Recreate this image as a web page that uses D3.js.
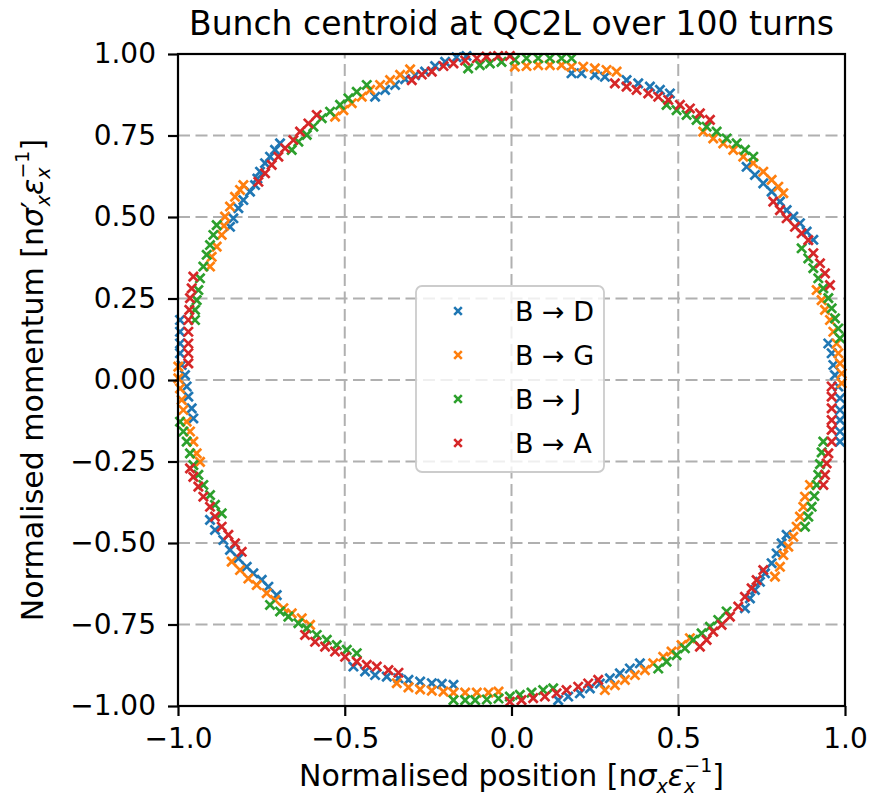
<!DOCTYPE html>
<html><head><meta charset="utf-8">
<script src="https://cdn.jsdelivr.net/npm/d3@7"></script>
<style>
body{margin:0;background:#fff}
svg{display:block}
text{font-family:"DejaVu Sans",sans-serif;fill:#000}
</style>
</head><body>
<svg id="chart" width="871" height="801"></svg>
<script>
// ---------------- data ----------------
const titleText = "Bunch centroid at QC2L over 100 turns";
const seriesNames = ["B \u2192 D", "B \u2192 G", "B \u2192 J", "B \u2192 A"];
const xTicks = [-1.0, -0.5, 0.0, 0.5, 1.0];
const yTicks = [-1.00, -0.75, -0.50, -0.25, 0.00, 0.25, 0.50, 0.75, 1.00];

const pointsBD = [
[-0.844,0.470],[-0.834,0.496],[-0.819,0.527],[-0.804,0.552],[-0.784,0.578],[-0.769,0.598],[-0.762,0.618],[-0.754,0.639],[-0.739,0.665],[-0.724,0.685],[-0.709,0.706],[-0.694,0.726],
[-0.409,0.869],[-0.379,0.890],[-0.349,0.905],[-0.319,0.923],[-0.289,0.935],[-0.259,0.946],[-0.229,0.963],[-0.199,0.976],[-0.165,0.990],[-0.135,0.994],
[0.180,0.941],[0.210,0.941],[0.250,0.936],[0.280,0.930],[0.345,0.920],[0.380,0.910],[0.415,0.900],[0.445,0.890],[0.475,0.879],
[0.705,0.654],[0.730,0.629],[0.755,0.603],[0.780,0.578],[0.805,0.547],[0.825,0.521],[0.845,0.501],[0.865,0.481],[0.885,0.455],[0.905,0.430],
[0.950,0.112],[0.960,0.082],[0.965,0.046],[0.970,0.015],[0.980,-0.020],[0.985,-0.056],[0.985,-0.092],[0.985,-0.123],[0.985,-0.158],[0.985,-0.189],
[0.825,-0.475],[0.810,-0.501],[0.795,-0.532],[0.780,-0.562],[0.760,-0.593],[0.745,-0.619],[0.730,-0.644],[0.715,-0.670],[0.700,-0.700],
[0.385,-0.869],[0.355,-0.885],[0.325,-0.900],[0.295,-0.915],[0.265,-0.931],[0.235,-0.946],[0.205,-0.961],[0.170,-0.971],[0.140,-0.982],
[-0.904,-0.429],[-0.889,-0.460],[-0.864,-0.491],[-0.844,-0.521],[-0.819,-0.547],[-0.794,-0.573],[-0.774,-0.593],[-0.749,-0.613],[-0.729,-0.634],[-0.704,-0.660],
[-0.474,-0.879],[-0.439,-0.894],[-0.409,-0.905],[-0.374,-0.910],[-0.339,-0.915],[-0.309,-0.920],[-0.274,-0.925],[-0.239,-0.930],[-0.209,-0.932],[-0.174,-0.935],
[-0.994,0.184],[-0.994,0.148],[-0.994,0.112],[-0.994,0.082],[-0.989,0.046],[-0.979,0.015],[-0.974,-0.020],[-0.969,-0.051],[-0.959,-0.087],[-0.954,-0.118]
];

const pointsBG = [
[-0.904,0.348],[-0.899,0.378],[-0.884,0.409],[-0.869,0.445],[-0.862,0.473],[-0.859,0.501],[-0.844,0.532],[-0.829,0.562],[-0.814,0.583],[-0.804,0.598],
[-0.529,0.808],[-0.504,0.828],[-0.479,0.849],[-0.449,0.869],[-0.424,0.890],[-0.394,0.905],[-0.364,0.920],[-0.334,0.936],[-0.304,0.953],
[0.010,0.961],[0.045,0.963],[0.080,0.966],[0.115,0.966],[0.150,0.966],[0.180,0.961],[0.215,0.961],[0.250,0.956],[0.285,0.951],[0.315,0.946],
[0.575,0.762],[0.605,0.741],[0.635,0.726],[0.665,0.706],[0.695,0.685],[0.725,0.665],[0.755,0.639],[0.780,0.614],[0.800,0.593],[0.815,0.573],
[0.915,0.276],[0.930,0.245],[0.940,0.215],[0.955,0.184],[0.965,0.148],[0.975,0.112],[0.980,0.082],[0.985,0.051],[0.990,0.020],[0.990,-0.010],
[0.895,-0.322],[0.880,-0.358],[0.875,-0.389],[0.865,-0.419],[0.855,-0.450],[0.845,-0.481],[0.830,-0.511],[0.815,-0.537],[0.805,-0.573],[0.790,-0.603],
[0.535,-0.792],[0.510,-0.813],[0.480,-0.833],[0.455,-0.849],[0.425,-0.869],[0.400,-0.890],[0.370,-0.905],[0.340,-0.920],[0.310,-0.936],[0.280,-0.951],
[-0.839,-0.557],[-0.814,-0.583],[-0.789,-0.609],[-0.764,-0.629],[-0.734,-0.654],[-0.709,-0.675],[-0.684,-0.700],[-0.659,-0.716],[-0.629,-0.731],[-0.604,-0.751],
[-0.344,-0.930],[-0.309,-0.943],[-0.274,-0.949],[-0.239,-0.953],[-0.204,-0.956],[-0.174,-0.959],[-0.139,-0.959],[-0.104,-0.959],[-0.069,-0.959],[-0.039,-0.956],
[-0.999,0.041],[-0.999,0.005],[-0.994,-0.026],[-0.989,-0.061],[-0.984,-0.092],[-0.974,-0.128],[-0.964,-0.158],[-0.954,-0.189],[-0.944,-0.225],[-0.934,-0.251]
];

const pointsBJ = [
[-0.949,0.184],[-0.949,0.215],[-0.944,0.245],[-0.939,0.276],[-0.934,0.312],[-0.924,0.348],[-0.914,0.384],[-0.904,0.414],[-0.894,0.445],[-0.884,0.475],
[-0.659,0.706],[-0.639,0.731],[-0.614,0.752],[-0.594,0.777],[-0.569,0.803],[-0.544,0.823],[-0.514,0.844],[-0.489,0.864],[-0.464,0.884],[-0.434,0.905],
[-0.130,0.956],[-0.095,0.966],[-0.065,0.971],[-0.030,0.976],[0.010,0.982],[0.045,0.987],[0.080,0.987],[0.115,0.987],[0.150,0.987],[0.180,0.987],
[0.465,0.844],[0.495,0.828],[0.525,0.813],[0.555,0.798],[0.585,0.777],[0.615,0.762],[0.645,0.741],[0.675,0.726],[0.700,0.706],[0.725,0.685],
[0.870,0.404],[0.890,0.373],[0.905,0.343],[0.920,0.312],[0.935,0.281],[0.950,0.251],[0.960,0.220],[0.970,0.189],[0.980,0.158],[0.985,0.128],
[0.935,-0.189],[0.930,-0.222],[0.925,-0.258],[0.920,-0.291],[0.915,-0.322],[0.908,-0.356],[0.900,-0.389],[0.890,-0.419],[0.880,-0.450],
[0.645,-0.710],[0.620,-0.736],[0.595,-0.757],[0.570,-0.777],[0.545,-0.797],[0.520,-0.823],[0.495,-0.844],[0.465,-0.864],[0.440,-0.885],
[-0.174,-0.982],[-0.139,-0.982],[-0.109,-0.982],[-0.074,-0.980],[-0.039,-0.977],[-0.005,-0.971],[0.025,-0.966],[0.060,-0.959],[0.095,-0.951],[0.125,-0.946],
[-0.724,-0.690],[-0.694,-0.710],[-0.669,-0.726],[-0.639,-0.746],[-0.614,-0.762],[-0.584,-0.782],[-0.554,-0.797],[-0.524,-0.813],[-0.494,-0.828],[-0.464,-0.838],
[-0.994,-0.128],[-0.984,-0.158],[-0.974,-0.189],[-0.964,-0.225],[-0.954,-0.261],[-0.939,-0.291],[-0.924,-0.322],[-0.904,-0.353],[-0.889,-0.383],[-0.869,-0.409]
];

const pointsBA = [
[-0.954,0.317],[-0.959,0.281],[-0.964,0.251],[-0.966,0.215],[-0.969,0.184],[-0.969,0.148],[-0.969,0.112],[-0.969,0.082],[-0.969,0.051],
[-0.759,0.608],[-0.739,0.634],[-0.719,0.660],[-0.699,0.685],[-0.679,0.711],[-0.654,0.736],[-0.634,0.762],[-0.609,0.787],[-0.584,0.813],
[-0.299,0.920],[-0.269,0.937],[-0.239,0.946],[-0.204,0.963],[-0.174,0.971],[-0.139,0.980],[-0.104,0.987],[-0.075,0.992],[-0.040,0.994],[-0.005,0.994],
[0.310,0.910],[0.345,0.900],[0.375,0.890],[0.410,0.879],[0.440,0.869],[0.470,0.859],[0.505,0.844],[0.535,0.833],[0.565,0.818],[0.595,0.798],
[0.785,0.547],[0.805,0.521],[0.825,0.496],[0.850,0.470],[0.870,0.450],[0.890,0.429],[0.905,0.389],[0.925,0.358],[0.940,0.327],[0.955,0.291],
[0.960,-0.020],[0.960,-0.051],[0.960,-0.087],[0.960,-0.123],[0.960,-0.153],[0.960,-0.189],[0.950,-0.225],[0.945,-0.256],[0.940,-0.291],[0.935,-0.322],
[0.755,-0.583],[0.735,-0.614],[0.720,-0.639],[0.700,-0.665],[0.680,-0.695],[0.655,-0.726],[0.630,-0.751],[0.605,-0.772],[0.585,-0.797],[0.565,-0.818],
[0.260,-0.920],[0.230,-0.931],[0.200,-0.941],[0.165,-0.951],[0.135,-0.961],[0.100,-0.971],[0.065,-0.976],[0.030,-0.982],[-0.005,-0.987],
[-0.619,-0.782],[-0.589,-0.803],[-0.559,-0.818],[-0.529,-0.833],[-0.499,-0.849],[-0.464,-0.864],[-0.434,-0.874],[-0.404,-0.879],[-0.369,-0.890],[-0.339,-0.898],
[-0.964,-0.271],[-0.954,-0.297],[-0.939,-0.327],[-0.924,-0.358],[-0.904,-0.389],[-0.889,-0.419],[-0.869,-0.450],[-0.849,-0.475],[-0.829,-0.501],[-0.809,-0.527]
];

const seriesPoints = [pointsBD, pointsBG, pointsBJ, pointsBA];

// ---------------- style / layout ----------------
const colors = ["#1f77b4", "#ff7f0e", "#2ca02c", "#d62728"];
const plot = {left: 178, right: 845, top: 54, bottom: 706};

const svg = d3.select("#chart");
const x = d3.scaleLinear().domain([-1, 1]).range([plot.left, plot.right]);
const y = d3.scaleLinear().domain([-1, 1]).range([plot.bottom, plot.top]);

// grid
const grid = svg.append("g").attr("stroke", "#b0b0b0").attr("stroke-width", 2).attr("stroke-dasharray", "12,5.5");
grid.selectAll(".gx").data(xTicks).enter().append("line")
  .attr("x1", d => x(d)).attr("x2", d => x(d)).attr("y1", plot.bottom).attr("y2", plot.top);
grid.selectAll(".gy").data(yTicks).enter().append("line")
  .attr("y1", d => y(d)).attr("y2", d => y(d)).attr("x1", plot.left).attr("x2", plot.right);

// markers
const marker = s => `M${-s},${-s}L${s},${s}M${-s},${s}L${s},${-s}`;
seriesPoints.forEach((pts, i) => {
  svg.append("g").selectAll("path").data(pts).enter().append("path")
    .attr("transform", d => `translate(${x(d[0])},${y(d[1])})`)
    .attr("d", marker(4.6))
    .attr("fill", "none")
    .attr("stroke", colors[i])
    .attr("stroke-width", 2.7);
});

// axes
const xAxis = d3.axisBottom(x).tickValues(xTicks).tickFormat(d3.format(".1f")).tickSize(10).tickPadding(12);
const yAxis = d3.axisLeft(y).tickValues(yTicks).tickFormat(d3.format(".2f")).tickSize(10).tickPadding(12);
const gx = svg.append("g").attr("transform", `translate(0,${plot.bottom})`).call(xAxis);
const gy = svg.append("g").attr("transform", `translate(${plot.left},0)`).call(yAxis);
[gx, gy].forEach(g => {
  g.select(".domain").remove();
  g.selectAll(".tick line").attr("stroke", "#000").attr("stroke-width", 2.2);
  g.selectAll(".tick text").attr("font-size", 28).attr("font-family", "DejaVu Sans").attr("fill", "#000");
});

// spines
svg.append("rect").attr("x", plot.left).attr("y", plot.top)
  .attr("width", plot.right - plot.left).attr("height", plot.bottom - plot.top)
  .attr("fill", "none").attr("stroke", "#000").attr("stroke-width", 2.2);

// title
svg.append("text").attr("x", (plot.left + plot.right) / 2).attr("y", 35)
  .attr("text-anchor", "middle").attr("font-size", 33).text(titleText);

// x label
const xl = svg.append("text").attr("x", (plot.left + plot.right) / 2).attr("y", 786)
  .attr("text-anchor", "middle").attr("font-size", 30);
xl.append("tspan").text("Normalised position [n");
xl.append("tspan").attr("font-style", "italic").text("\u03c3");
xl.append("tspan").attr("font-size", 19).attr("font-style", "italic").attr("dy", 7).text("x");
xl.append("tspan").attr("font-style", "italic").attr("dy", -7).text("\u03b5");
xl.append("tspan").attr("font-size", 19).attr("font-style", "italic").attr("dy", 7).text("x");
xl.append("tspan").attr("font-size", 19).attr("dx", -11).attr("dy", -21).text("\u22121");
xl.append("tspan").attr("dy", 14).text("]");

// y label
const yl = svg.append("text").attr("transform", `translate(43,${(plot.top + plot.bottom) / 2}) rotate(-90)`)
  .attr("text-anchor", "middle").attr("font-size", 30);
yl.append("tspan").text("Normalised momentum [n");
yl.append("tspan").attr("font-style", "italic").text("\u03c3");
yl.append("tspan").text("\u2032");
yl.append("tspan").attr("font-size", 19).attr("font-style", "italic").attr("dx", -5).attr("dy", 7).text("x");
yl.append("tspan").attr("font-style", "italic").attr("dy", -7).text("\u03b5");
yl.append("tspan").attr("font-size", 19).attr("font-style", "italic").attr("dy", 7).text("x");
yl.append("tspan").attr("font-size", 19).attr("dx", -11).attr("dy", -21).text("\u22121");
yl.append("tspan").attr("dy", 14).text("]");

// legend
const lg = svg.append("g");
lg.append("rect").attr("x", 416).attr("y", 286).attr("width", 188).attr("height", 186)
  .attr("rx", 6).attr("fill", "#fff").attr("fill-opacity", 0.8)
  .attr("stroke", "#cccccc").attr("stroke-width", 1.8);
seriesNames.forEach((name, i) => {
  const cy = 311 + i * 44;
  lg.append("path").attr("transform", `translate(458,${cy})`).attr("d", marker(3.8))
    .attr("fill", "none").attr("stroke", colors[i]).attr("stroke-width", 2.6);
  lg.append("text").attr("x", 515).attr("y", cy + 10).attr("font-size", 27).text(name);
});
</script>
</body></html>
